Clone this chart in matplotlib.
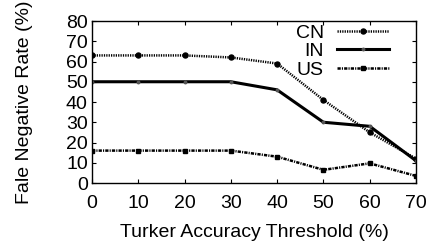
import matplotlib
matplotlib.use("Agg")
import matplotlib.pyplot as plt

plt.rcParams['font.family'] = ['Liberation Sans', 'DejaVu Sans']

thresholds = [0, 10, 20, 30, 40, 50, 60, 70]
cn = [63, 63, 63, 62, 59, 41, 25, 12]
india = [50, 50, 50, 50, 46, 30, 28, 11]
us = [16, 16, 16, 16, 13, 6.5, 9.7, 3.5]

fig = plt.figure(figsize=(4.3, 2.47), dpi=100)
ax = fig.add_axes([92 / 430, 1 - 183 / 247, (416 - 92) / 430, (183 - 21) / 247])

ax.plot(thresholds, cn, color='black', linestyle=(0, (0.5, 0.45)), linewidth=1.8,
        marker='o', markersize=3.6, label='CN')
ax.plot(thresholds, india, color='black', linestyle='-', linewidth=2.2,
        marker='o', markersize=1.8, markerfacecolor='#555555',
        markeredgecolor='#555555', label='IN')
ax.plot(thresholds, us, color='black', linestyle=(0, (1.3, 0.45, 0.45, 0.45)),
        linewidth=1.8, marker='s', markersize=3, label='US')

ax.set_xlim(0, 70)
ax.set_ylim(0, 80)
ax.set_xticks(thresholds)
ax.set_yticks(range(0, 81, 10))
ax.tick_params(axis='x', direction='in', top=True, labelsize=14, length=3, pad=9)
ax.tick_params(axis='y', direction='in', right=True, labelsize=14, length=3, pad=3)
ax.set_xlabel('Turker Accuracy Threshold (%)', fontsize=14, labelpad=8)
ax.set_ylabel('Fale Negative Rate (%)', fontsize=14, labelpad=24)
for s in ax.spines.values():
    s.set_linewidth(1)

ax.legend(loc='upper right', bbox_to_anchor=((392 - 92) / 324, 1.0),
          frameon=False, fontsize=14, markerfirst=False,
          handlelength=2.7, handletextpad=0.65, labelspacing=0.05,
          borderaxespad=0, borderpad=0.15)

fig.savefig('out.png', dpi=100)
